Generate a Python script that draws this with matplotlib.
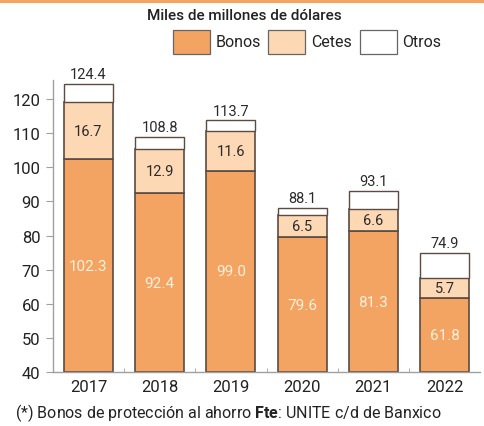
import matplotlib
matplotlib.use("Agg")
import matplotlib.pyplot as plt
from matplotlib.patches import Rectangle

plt.rcParams["font.family"] = ["Roboto", "DejaVu Sans"]
plt.rcParams["mathtext.fontset"] = "custom"
plt.rcParams["mathtext.bf"] = "Roboto:bold"
plt.rcParams["mathtext.rm"] = "Roboto"

years = ["2017", "2018", "2019", "2020", "2021", "2022"]
bonos = [102.3, 92.4, 99.0, 79.6, 81.3, 61.8]
cetes = [16.7, 12.9, 11.6, 6.5, 6.6, 5.7]
totales = [124.4, 108.8, 113.7, 88.1, 93.1, 74.9]
otros = [t - b - c for t, b, c in zip(totales, bonos, cetes)]
y_ticks = [40, 50, 60, 70, 80, 90, 100, 110, 120]

BASE = 40
C_BONOS = "#f4a462"
C_CETES = "#fdd8b4"
C_EDGE = "#5b4b42"
C_AXIS = "#a0a0a0"

fig = plt.figure(figsize=(4.85, 4.27), dpi=100)
ax = fig.add_axes([0.109, 0.126, 0.881, 0.684])

x = list(range(len(years)))
w = 0.69
b_h = [b - BASE for b in bonos]
ax.bar(x, b_h, w, bottom=BASE, color=C_BONOS, edgecolor=C_EDGE, linewidth=1.2)
ax.bar(x, cetes, w, bottom=bonos, color=C_CETES, edgecolor=C_EDGE, linewidth=1.2)
tops = [b + c for b, c in zip(bonos, cetes)]
ax.bar(x, otros, w, bottom=tops, color="white", edgecolor=C_EDGE, linewidth=1.0)

for i in x:
    ax.text(i, (BASE + bonos[i]) / 2, f"{bonos[i]:.1f}", ha="center", va="center",
            fontsize=11, color="#fdf0dc")
    ax.text(i, bonos[i] + cetes[i] / 2, f"{cetes[i]:.1f}", ha="center", va="center",
            fontsize=10.5, color="#2b2b2b")
    ax.text(i, totales[i] + 0.8, f"{totales[i]:.1f}", ha="center", va="bottom",
            fontsize=10.5, color="#2b2b2b")

ax.set_xlim(-0.5, 5.5)
ax.set_ylim(BASE, 125.5)
ax.set_yticks(y_ticks)
ax.set_yticklabels([str(t) for t in y_ticks], fontsize=12, color="#222222")
ax.set_xticks(x)
ax.set_xticklabels(years, fontsize=12, color="#222222")
ax.set_xticks([i + 0.5 for i in x[:-1]], minor=True)
ax.tick_params(axis="x", which="major", length=0, pad=5)
ax.tick_params(axis="x", which="minor", length=3, color=C_AXIS, direction="in")
ax.tick_params(axis="y", length=5, color=C_AXIS, pad=4)
for s in ["top", "right"]:
    ax.spines[s].set_visible(False)
for s in ["left", "bottom"]:
    ax.spines[s].set_color(C_AXIS)
    ax.spines[s].set_linewidth(1.0)

# orange rule at the top
fig.add_artist(plt.Line2D([0, 1], [0.996, 0.996], color=C_BONOS, linewidth=3,
                          transform=fig.transFigure))

fig.text(0.503, 0.962, "Miles de millones de dólares", ha="center", va="center",
         fontsize=11, color="#222222", fontweight="medium")

# legend
leg = [("Bonos", C_BONOS, 0.357), ("Cetes", C_CETES, 0.553), ("Otros", "white", 0.742)]
for name, col, x0 in leg:
    fig.add_artist(Rectangle((x0, 0.872), 0.076, 0.056, facecolor=col,
                             edgecolor="#666666", linewidth=0.9,
                             transform=fig.transFigure))
    fig.text(x0 + 0.088, 0.900, name, ha="left", va="center", fontsize=11.5,
             color="#222222")

fig.text(0.03, 0.032, r"(*) Bonos de protección al ahorro $\mathbf{Fte}$: UNITE c/d de Banxico",
         ha="left", va="center", fontsize=11.5, color="#222222")

fig.savefig("out.png", dpi=100)
plt.close(fig)
